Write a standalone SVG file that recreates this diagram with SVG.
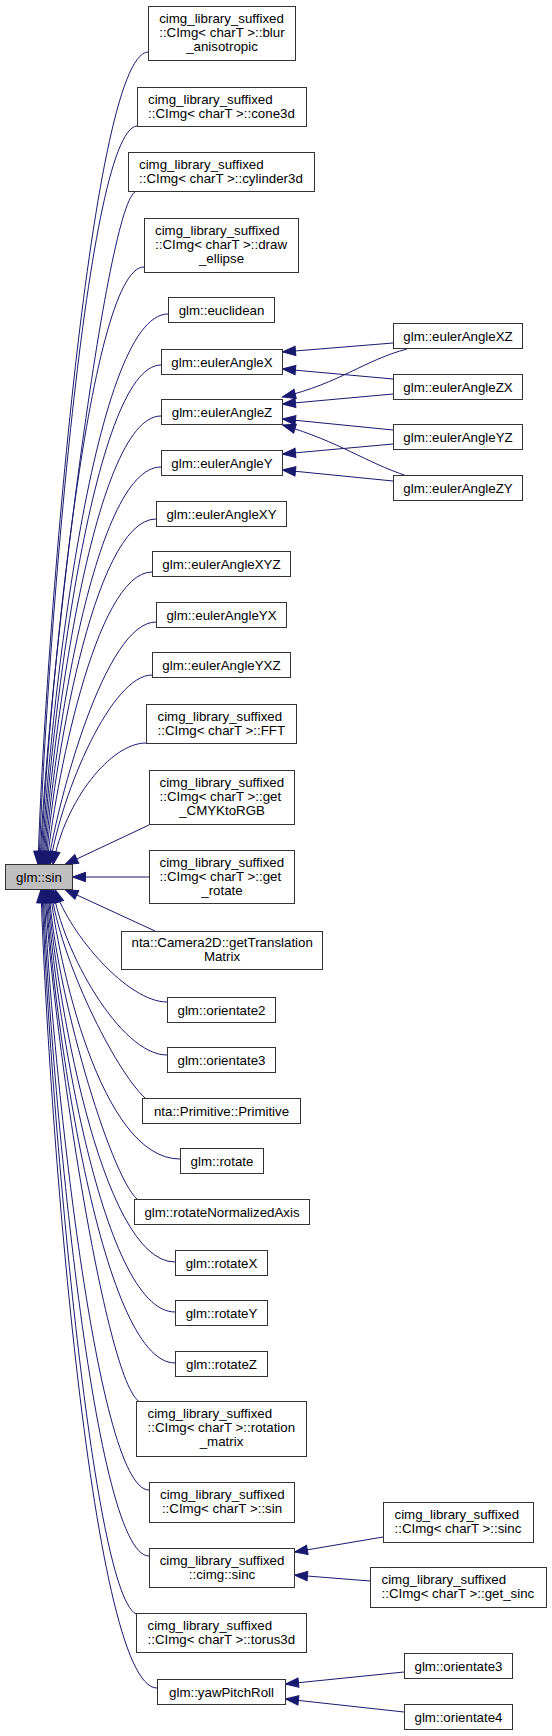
<svg xmlns="http://www.w3.org/2000/svg" width="552" height="1736" viewBox="0 0 552 1736">
<style>
.n rect{fill:#ffffff;stroke:#333333;stroke-width:1}
.m rect{fill:#bfbfbf;stroke:#333333;stroke-width:1}
text{font-family:"Liberation Sans",Arial,Helvetica,sans-serif;font-size:13.3px;fill:#000000}
.c{text-anchor:middle}
.l{text-anchor:start}
#edges path{fill:none;stroke:#191970;stroke-width:1;marker-end:url(#ah)}
</style>
<defs>
<marker id="ah" markerUnits="userSpaceOnUse" markerWidth="16" markerHeight="12" refX="13" refY="5" orient="auto" viewBox="-1 -1 16 12" overflow="visible">
<path d="M0,0.3 L13,5 L0,9.7 Z" fill="#191970" stroke="#191970" stroke-width="1"/>
</marker>
</defs>
<rect width="552" height="1736" fill="#ffffff"/>
<g id="edges">
<path d="M148,52 C90,55 44,661 38,864.5"/>
<path d="M137,126 C85,130 45,680 39,864.5"/>
<path d="M135,192 C105,210 46,696 40,864.5"/>
<path d="M144,267 C88,267 47,715 41,864.5"/>
<path d="M168,314 C92,314 48,727 42,864.5"/>
<path d="M161,365 C92,365 49,739 43,864.5"/>
<path d="M161,416 C92,416 50,752 44,864.5"/>
<path d="M161,467 C92,467 51,765 45,864.5"/>
<path d="M156,519 C92,519 52,778 46,864.5"/>
<path d="M152,572 C95,572 54,790 47,864.5"/>
<path d="M156,622 C105,622 58,800 48,864.5"/>
<path d="M152,675 C112,675 62,790 50,864.5"/>
<path d="M146,743 C111,743 65,800 53,864.5"/>
<path d="M149,825 L65,864.5"/>
<path d="M149,877 L72.5,877"/>
<path d="M155,931 L65,889.5"/>
<path d="M167,1002 C128,1002 70,935 55,889.5"/>
<path d="M167,1055 C120,1055 62,950 53,889.5"/>
<path d="M145,1098 C115,1070 60,960 51,889.5"/>
<path d="M180,1159 C100,1159 58,960 50,889.5"/>
<path d="M137,1199 C110,1175 55,990 49,889.5"/>
<path d="M175,1262 C100,1262 54,983 48,889.5"/>
<path d="M175,1312 C100,1312 53,996 47,889.5"/>
<path d="M175,1363 C100,1363 52,1008 46,889.5"/>
<path d="M140,1402 C105,1385 51,1018 45,889.5"/>
<path d="M149,1490 C95,1490 50,1040 44,889.5"/>
<path d="M149,1556 C92,1556 49,1056 43,889.5"/>
<path d="M136,1614 C90,1590 48,1071 42,889.5"/>
<path d="M157,1688 C90,1688 47,1090 41,889.5"/>
<path d="M393,343 L282.5,352"/>
<path d="M393,379 L282.5,369"/>
<path d="M407,349 C365,360 340,383 282.5,397"/>
<path d="M393,394 L282.5,404"/>
<path d="M393,430 L282.5,419"/>
<path d="M407,476 C365,462 340,442 282.5,425"/>
<path d="M393,444 L282.5,454"/>
<path d="M393,481 L282.5,470"/>
<path d="M383,1537 L294.5,1552"/>
<path d="M370,1581 L294.5,1575"/>
<path d="M404,1672 L285.5,1684"/>
<path d="M404,1712 L285.5,1699"/>
</g>
<g id="n_sin" class="m"><rect x="5.5" y="864.5" width="67" height="25"/><text class="c" x="39" y="881.5">glm::sin</text></g>
<g id="n_blur" class="n"><rect x="148.5" y="6.5" width="147" height="54"/><text class="l" x="159.2" y="23">cimg_library_suffixed</text><text class="l" x="159.2" y="37">::CImg&lt; charT &gt;::blur</text><text class="c" x="222" y="51">_anisotropic</text></g>
<g id="n_cone" class="n"><rect x="137.5" y="87.5" width="169" height="39"/><text class="l" x="148" y="104">cimg_library_suffixed</text><text class="l" x="148" y="118">::CImg&lt; charT &gt;::cone3d</text></g>
<g id="n_cyl" class="n"><rect x="128.5" y="152.5" width="186" height="39"/><text class="l" x="139" y="169">cimg_library_suffixed</text><text class="l" x="139" y="183">::CImg&lt; charT &gt;::cylinder3d</text></g>
<g id="n_ellipse" class="n"><rect x="144.5" y="218.5" width="154" height="54"/><text class="l" x="155" y="235">cimg_library_suffixed</text><text class="l" x="155" y="249">::CImg&lt; charT &gt;::draw</text><text class="c" x="221.5" y="263">_ellipse</text></g>
<g id="n_euclid" class="n"><rect x="168.5" y="297.5" width="106" height="25"/><text class="c" x="221.5" y="314.5">glm::euclidean</text></g>
<g id="n_eX" class="n"><rect x="161.5" y="349.5" width="121" height="25"/><text class="c" x="222" y="366.5">glm::eulerAngleX</text></g>
<g id="n_eZ" class="n"><rect x="161.5" y="399.5" width="121" height="25"/><text class="c" x="222" y="416.5">glm::eulerAngleZ</text></g>
<g id="n_eY" class="n"><rect x="161.5" y="450.5" width="121" height="25"/><text class="c" x="222" y="467.5">glm::eulerAngleY</text></g>
<g id="n_eXY" class="n"><rect x="156.5" y="501.5" width="130" height="25"/><text class="c" x="221.5" y="518.5">glm::eulerAngleXY</text></g>
<g id="n_eXYZ" class="n"><rect x="152.5" y="551.5" width="138" height="25"/><text class="c" x="221.5" y="568.5">glm::eulerAngleXYZ</text></g>
<g id="n_eYX" class="n"><rect x="156.5" y="602.5" width="130" height="25"/><text class="c" x="221.5" y="619.5">glm::eulerAngleYX</text></g>
<g id="n_eYXZ" class="n"><rect x="152.5" y="652.5" width="138" height="25"/><text class="c" x="221.5" y="669.5">glm::eulerAngleYXZ</text></g>
<g id="n_fft" class="n"><rect x="146.5" y="704.5" width="150" height="39"/><text class="l" x="157.5" y="721">cimg_library_suffixed</text><text class="l" x="157.5" y="735">::CImg&lt; charT &gt;::FFT</text></g>
<g id="n_cmyk" class="n"><rect x="149.5" y="770.5" width="145" height="54"/><text class="l" x="159.5" y="787">cimg_library_suffixed</text><text class="l" x="159.5" y="801">::CImg&lt; charT &gt;::get</text><text class="c" x="222" y="815">_CMYKtoRGB</text></g>
<g id="n_getrot" class="n"><rect x="149.5" y="850.5" width="145" height="53"/><text class="l" x="159.5" y="867">cimg_library_suffixed</text><text class="l" x="159.5" y="881">::CImg&lt; charT &gt;::get</text><text class="c" x="222" y="895">_rotate</text></g>
<g id="n_cam" class="n"><rect x="121.5" y="931.5" width="201" height="38"/><text class="l" x="131.5" y="947">nta::Camera2D::getTranslation</text><text class="c" x="222" y="961">Matrix</text></g>
<g id="n_or2" class="n"><rect x="167.5" y="997.5" width="108" height="25"/><text class="c" x="221.5" y="1014.5">glm::orientate2</text></g>
<g id="n_or3" class="n"><rect x="167.5" y="1047.5" width="108" height="25"/><text class="c" x="221.5" y="1064.5">glm::orientate3</text></g>
<g id="n_prim" class="n"><rect x="142.5" y="1098.5" width="158" height="25"/><text class="c" x="221.5" y="1115.5">nta::Primitive::Primitive</text></g>
<g id="n_rot" class="n"><rect x="180.5" y="1148.5" width="83" height="25"/><text class="c" x="222" y="1165.5">glm::rotate</text></g>
<g id="n_rna" class="n"><rect x="134.5" y="1199.5" width="175" height="25"/><text class="c" x="222" y="1216.5">glm::rotateNormalizedAxis</text></g>
<g id="n_rx" class="n"><rect x="175.5" y="1250.5" width="92" height="25"/><text class="c" x="221.5" y="1267.5">glm::rotateX</text></g>
<g id="n_ry" class="n"><rect x="175.5" y="1300.5" width="92" height="25"/><text class="c" x="221.5" y="1317.5">glm::rotateY</text></g>
<g id="n_rz" class="n"><rect x="175.5" y="1351.5" width="92" height="25"/><text class="c" x="221.5" y="1368.5">glm::rotateZ</text></g>
<g id="n_rotmat" class="n"><rect x="136.5" y="1401.5" width="170" height="55"/><text class="l" x="147.5" y="1418">cimg_library_suffixed</text><text class="l" x="147.5" y="1432">::CImg&lt; charT &gt;::rotation</text><text class="c" x="221.5" y="1446">_matrix</text></g>
<g id="n_csin" class="n"><rect x="149.5" y="1482.5" width="145" height="40"/><text class="l" x="160" y="1499">cimg_library_suffixed</text><text class="c" x="222" y="1513">::CImg&lt; charT &gt;::sin</text></g>
<g id="n_csinc" class="n"><rect x="149.5" y="1548.5" width="145" height="39"/><text class="c" x="222" y="1565">cimg_library_suffixed</text><text class="c" x="222" y="1579">::cimg::sinc</text></g>
<g id="n_torus" class="n"><rect x="136.5" y="1613.5" width="170" height="39"/><text class="l" x="147.5" y="1630">cimg_library_suffixed</text><text class="l" x="147.5" y="1644">::CImg&lt; charT &gt;::torus3d</text></g>
<g id="n_ypr" class="n"><rect x="157.5" y="1679.5" width="128" height="25"/><text class="c" x="221.5" y="1696.5">glm::yawPitchRoll</text></g>
<g id="n_eXZ" class="n"><rect x="393.5" y="323.5" width="129" height="25"/><text class="c" x="458" y="340.5">glm::eulerAngleXZ</text></g>
<g id="n_eZX" class="n"><rect x="393.5" y="374.5" width="129" height="25"/><text class="c" x="458" y="391.5">glm::eulerAngleZX</text></g>
<g id="n_eYZ" class="n"><rect x="393.5" y="424.5" width="129" height="25"/><text class="c" x="458" y="441.5">glm::eulerAngleYZ</text></g>
<g id="n_eZY" class="n"><rect x="393.5" y="475.5" width="129" height="25"/><text class="c" x="458" y="492.5">glm::eulerAngleZY</text></g>
<g id="n_Csinc" class="n"><rect x="383.5" y="1502.5" width="150" height="40"/><text class="l" x="394.5" y="1519">cimg_library_suffixed</text><text class="l" x="394.5" y="1533">::CImg&lt; charT &gt;::sinc</text></g>
<g id="n_getsinc" class="n"><rect x="370.5" y="1567.5" width="176" height="40"/><text class="l" x="381.5" y="1584">cimg_library_suffixed</text><text class="l" x="381.5" y="1598">::CImg&lt; charT &gt;::get_sinc</text></g>
<g id="n_or3r" class="n"><rect x="404.5" y="1653.5" width="108" height="25"/><text class="c" x="458.5" y="1670.5">glm::orientate3</text></g>
<g id="n_or4" class="n"><rect x="404.5" y="1704.5" width="108" height="25"/><text class="c" x="458.5" y="1721.5">glm::orientate4</text></g>
</svg>
